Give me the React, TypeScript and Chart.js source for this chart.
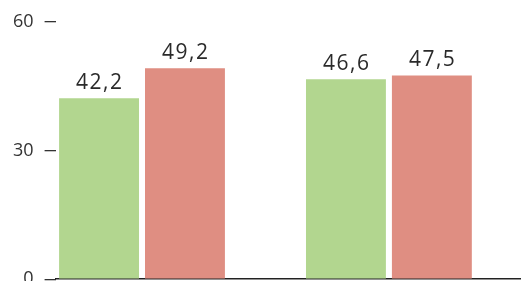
import React, { useEffect, useRef } from "react";
import { Chart, registerables } from "chart.js";

Chart.register(...registerables);

const categories = ["Group A", "Group B"];
const seriesGreen = [42.2, 46.6];
const seriesRed = [49.2, 47.5];
const yTicks = [0, 30, 60];

const GREEN = "#b2d68f";
const RED = "#df8e82";

const fmt = (v: number) => v.toFixed(1).replace(".", ",");

const dataLabels = {
  id: "dataLabels",
  afterDatasetsDraw(chart: any) {
    const ctx = chart.ctx;
    ctx.save();
    ctx.font = "21px 'Open Sans'";
    try { (ctx as any).letterSpacing = "1.5px"; } catch (e) {}
    ctx.fillStyle = "#2a2a2a";
    ctx.textAlign = "center";
    ctx.textBaseline = "alphabetic";
    chart.data.datasets.forEach((ds: any, i: number) => {
      const meta = chart.getDatasetMeta(i);
      meta.data.forEach((bar: any, j: number) => {
        ctx.fillText(fmt(ds.data[j].y), bar.x + 0.75, bar.y - 9);
      });
    });
    ctx.restore();
  },
};

export default function App() {
  const ref = useRef<HTMLCanvasElement>(null);
  useEffect(() => {
    document.body.style.margin = "0";
    const chart = new Chart(ref.current!, {
      type: "bar",
      data: {
        datasets: [
          {
            label: "green",
            data: categories.map((_, i) => ({ x: i, y: seriesGreen[i] })),
            backgroundColor: GREEN,
            categoryPercentage: 0.696,
            barPercentage: 0.93,
          },
          {
            label: "red",
            data: categories.map((_, i) => ({ x: i, y: seriesRed[i] })),
            backgroundColor: RED,
            categoryPercentage: 0.696,
            barPercentage: 0.93,
          },
        ],
      },
      options: {
        animation: false,
        responsive: false,
        maintainAspectRatio: false,
        layout: { padding: { top: 12, bottom: 0, right: 0, left: 2 } },
        plugins: { legend: { display: false }, tooltip: { enabled: false } },
        scales: {
          x: {
            type: "linear",
            offset: false,
            min: -0.35,
            max: 1.535,
            afterBuildTicks: (s: any) => {
              s.ticks = categories.map((_, i) => ({ value: i }));
            },
            ticks: { display: false, padding: 0 },
            grid: { display: false, drawTicks: false },
            border: { display: true, color: "#222", width: 1.5 },
          },
          y: {
            min: 0,
            max: 60,
            afterBuildTicks: (s: any) => {
              s.ticks = yTicks.map((v) => ({ value: v }));
            },
            ticks: {
              font: { family: "'Open Sans'", size: 18 },
              color: "#333",
              padding: 11,
              callback: (v: any) => String(v),
            },
            grid: {
              drawOnChartArea: false,
              drawTicks: true,
              tickLength: 11,
              tickColor: "#333",
              lineWidth: 1.3,
            },
            border: { display: false },
          },
        },
      },
      plugins: [dataLabels],
    });
    return () => chart.destroy();
  }, []);
  return (
    <div style={{ width: 521, height: 281, overflow: "hidden" }}>
      <canvas ref={ref} width={521} height={301} style={{ display: "block" }} />
    </div>
  );
}
